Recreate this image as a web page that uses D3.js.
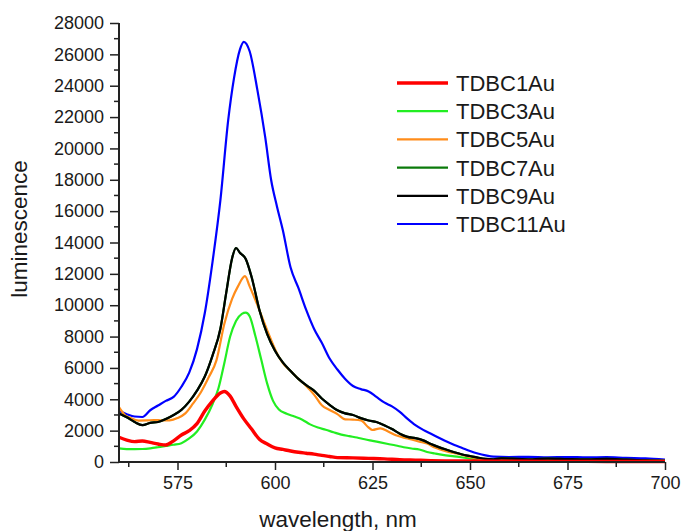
<!DOCTYPE html>
<html><head><meta charset="utf-8">
<script src="https://cdn.jsdelivr.net/npm/d3@7"></script>
<style>body{margin:0;background:#fff}svg{display:block}text{font-family:Arial,"Liberation Sans",sans-serif;fill:#1a1a1a}</style>
</head><body><svg id="c" width="681" height="531"></svg>
<script>
const seriesNames = ["TDBC1Au","TDBC3Au","TDBC5Au","TDBC7Au","TDBC9Au","TDBC11Au"];
const seriesColors = ["#ff0000","#22ee22","#ff8c1a","#0a7a0a","#000000","#0000ff"];
const xTicks = [575,600,625,650,675,700];
const yTicks = [0,2000,4000,6000,8000,10000,12000,14000,16000,18000,20000,22000,24000,26000,28000];

const red = [[560,1580],[562,1400],[564,1300],[566,1340],[568,1250],[570,1150],[572,1080],[574,1350],[576,1720],[578,2000],[580,2450],[582,3250],[584,3900],[586,4400],[587,4500],[588.5,4200],[590,3550],[592,2750],[594,2100],[596,1450],[598,1150],[600,900],[602,800],[604,700],[606,620],[608,560],[610,500],[612,420],[614,350],[616,280],[620,260],[624,230],[628,200],[632,150],[636,120],[640,90],[650,60],[660,50],[670,40],[680,40],[690,30],[700,30]];
const green = [[560,870],[562,820],[564,820],[566,830],[568,870],[570,940],[572,1020],[574,1100],[576,1200],[578,1500],[580,1950],[582,2700],[584,3700],[585.5,4700],[587,6300],[588.5,8000],[590,9000],[591.5,9450],[592.5,9530],[593.5,9300],[595,8000],[596.5,6500],[598,5000],[599.5,3900],[601,3350],[603,3080],[605,2900],[607,2700],[609,2400],[611,2200],[613,2060],[615,1900],[617,1750],[619,1650],[621,1560],[623,1450],[625,1350],[627,1250],[629,1150],[631,1050],[633,940],[635,860],[637,800],[639,640],[641,540],[643,450],[646,360],[650,230],[654,130],[660,110],[670,100],[680,90],[690,80],[700,80]];
const orange = [[560,3500],[561.5,3000],[563,2800],[565,2640],[567,2650],[569,2680],[571,2650],[573,2660],[575,2800],[577,3100],[579,3740],[581,4450],[583,5400],[585,6500],[587,8800],[589,10400],[590.5,11200],[592.3,11850],[593.5,11200],[595.5,10000],[598,8400],[600.5,6930],[602,6300],[604,5800],[606,5300],[608,4850],[610,4300],[612,3620],[614,3320],[616,3050],[618,2720],[620,2700],[622,2650],[624,2200],[625,2040],[627,2150],[629,1950],[631,1700],[634,1500],[637,1300],[639,1180],[641,920],[644,680],[647,520],[650,330],[653,170],[656,120],[660,150],[665,120],[670,140],[675,100],[680,120],[690,90],[700,80]];
const black = [[560,3100],[562,2850],[564,2550],[566,2350],[568,2500],[570,2550],[572,2750],[574,3000],[576,3320],[578,3850],[580,4550],[582,5450],[584,6800],[586,8500],[587.5,10800],[589,13000],[590,13650],[591,13350],[592.5,12950],[594,11800],[596,9700],[598,8150],[600,7100],[602,6350],[604,5800],[606,5300],[608,4900],[610,4550],[612,4050],[614,3650],[616,3300],[618,3100],[620,3000],[622,2800],[624,2650],[626,2550],[628,2350],[630,2100],[632,1800],[634,1600],[636,1520],[638,1380],[640,1150],[642,950],[644,780],[646,620],[648,480],[650,380],[652,280],[654,200],[656,170],[658,230],[662,200],[666,170],[670,220],[675,190],[680,170],[685,200],[690,150],[695,100],[700,80]];
const darkgreen = black.map(d => [d[0], d[1]]);
const blue = [[560,3250],[562,3050],[564,2900],[566,2870],[568,3300],[570,3600],[572,3900],[574,4150],[576,4800],[578,5700],[580,7200],[582,9500],[584,12800],[586,16700],[588,21800],[589.5,24500],[591,26300],[592,26800],[593.5,26200],[595.5,23700],[597.5,20700],[599,18000],[600.5,16300],[602,14800],[604,12400],[606,11100],[608,9700],[610,8500],[612,7600],[614,6600],[616,5900],[618,5300],[620,4850],[622,4650],[624,4500],[626,4150],[628,3800],[630,3550],[632,3200],[634,2750],[636,2350],[638,2050],[640,1800],[642,1550],[644,1300],[646,1080],[648,890],[650,700],[652,540],[654,420],[656,340],[660,320],[665,330],[670,300],[675,320],[680,290],[685,310],[690,260],[695,230],[700,150]];

const seriesData = [red, green, orange, darkgreen, black, blue];
const seriesWidths = [3.4, 2.2, 2.2, 2.2, 2.2, 2.2];
const drawOrder = [5, 1, 2, 3, 4, 0];

const svg = d3.select("#c");
const x = d3.scaleLinear().domain([560, 700]).range([119, 665]);
const y = d3.scaleLinear().domain([0, 28000]).range([462, 23]);
const axisColor = "#222";

const xMinor = d3.range(562.5, 700.1, 12.5).filter(v => !xTicks.includes(v));
const yMinor = d3.range(1000, 28000, 2000);

const line = d3.line().x(d => x(d[0])).y(d => y(d[1])).curve(d3.curveMonotoneX);
drawOrder.forEach(i => {
  svg.append("path").datum(seriesData[i])
    .attr("fill", "none").attr("stroke", seriesColors[i])
    .attr("stroke-width", seriesWidths[i]).attr("stroke-linejoin", "round")
    .attr("d", line);
});

const gx = svg.append("g").attr("transform", "translate(0,462)");
gx.call(d3.axisBottom(x).tickValues(xTicks).tickSize(8).tickPadding(6).tickFormat(d3.format("d")));
gx.selectAll(".minor").data(xMinor).enter().append("line")
  .attr("x1", d => x(d)).attr("x2", d => x(d)).attr("y1", 0).attr("y2", 5)
  .attr("stroke", axisColor).attr("stroke-width", 1.5);
gx.select(".domain").attr("d", `M${x(560)},0H${x(700)}`);

const gy = svg.append("g").attr("transform", "translate(119,0)");
gy.call(d3.axisLeft(y).tickValues(yTicks).tickSize(9).tickPadding(6).tickFormat(d3.format("d")));
gy.selectAll(".minor").data(yMinor).enter().append("line")
  .attr("x1", 0).attr("x2", -5).attr("y1", d => y(d)).attr("y2", d => y(d))
  .attr("stroke", axisColor).attr("stroke-width", 1.5);
gy.select(".domain").attr("d", `M0,${y(0)}V${y(28000)}`);

[gx, gy].forEach(g => {
  g.select(".domain").attr("stroke", axisColor).attr("stroke-width", 2);
  g.selectAll(".tick line").attr("stroke", axisColor).attr("stroke-width", 1.5);
  g.selectAll(".tick text").attr("font-size", 18).attr("font-family", "Arial, 'Liberation Sans', sans-serif").attr("fill", "#1a1a1a");
});

svg.append("text").attr("x", 338).attr("y", 527).attr("text-anchor", "middle")
  .attr("font-size", 22.5).text("wavelength, nm");
svg.append("text").attr("transform", "translate(27,229) rotate(-90)").attr("text-anchor", "middle")
  .attr("font-size", 22.5).text("luminescence");

const lg = svg.append("g");
seriesNames.forEach((name, i) => {
  const yy = 83 + i * 28.2;
  lg.append("line").attr("x1", 397).attr("x2", 448).attr("y1", yy).attr("y2", yy)
    .attr("stroke", seriesColors[i]).attr("stroke-width", seriesWidths[i]);
  lg.append("text").attr("x", 456).attr("y", yy).attr("dy", "0.36em")
    .attr("font-size", 22).text(name);
});
</script></body></html>
